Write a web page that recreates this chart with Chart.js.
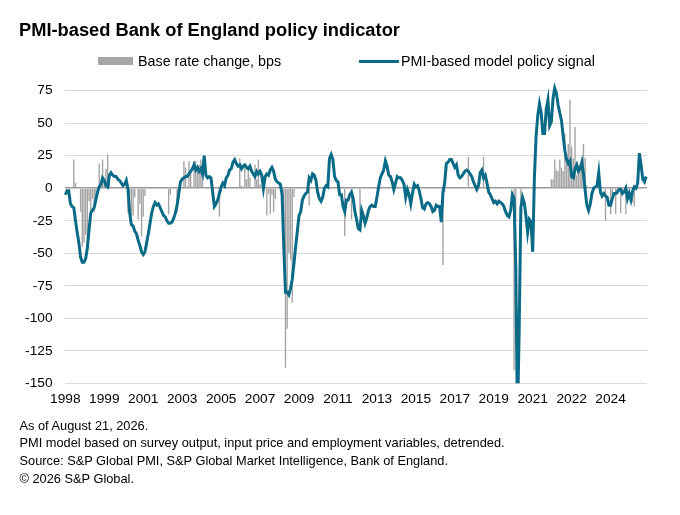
<!DOCTYPE html>
<html>
<head>
<meta charset="utf-8">
<title>PMI-based Bank of England policy indicator</title>
<script src="https://cdn.jsdelivr.net/npm/chart.js@4.4.1/dist/chart.umd.min.js"></script>
<style>
  body { margin: 0; background: #fff; font-family: 'Liberation Sans', Arial, sans-serif; color: #000; }
  #wrap { position: relative; width: 680px; height: 515px; overflow: hidden; }
  #chart { position: absolute; left: 0; top: 0; }
  .title { position: absolute; left: 19px; top: 21px; font-size: 18.3px; font-weight: bold; line-height: 18px; white-space: nowrap; }
  .legend { position: absolute; top: 53px; height: 17px; font-size: 14.3px; line-height: 17px; white-space: nowrap; }
  .swatch { position: absolute; }
  .notes { position: absolute; left: 19.5px; top: 416.7px; font-size: 12.8px; line-height: 17.8px; white-space: nowrap; }
</style>
</head>
<body>
<div id="wrap">
  <canvas id="chart" width="680" height="515"></canvas>
  <div class="title">PMI-based Bank of England policy indicator</div>
  <div class="swatch" style="left:98px; top:57px; width:35px; height:8px; background:#a6a6a6;"></div>
  <div class="legend" style="left:138px;">Base rate change, bps</div>
  <div class="swatch" style="left:359px; top:59.5px; width:40px; height:3px; background:#0a6b88;"></div>
  <div class="legend" style="left:401px;">PMI-based model policy signal</div>
  <div class="notes">
    As of August 21, 2026.<br>
    PMI model based on survey output, input price and employment variables, detrended.<br>
    Source: S&amp;P Global PMI, S&amp;P Global Market Intelligence, Bank of England.<br>
    © 2026 S&amp;P Global.
  </div>
</div>
<script>
// monthly series, Jan 1998 - Aug 2026
const startYear = 1998;
const tickEvery = 23; // months between labelled ticks
const tickYears = ['1998', '1999', '2001', '2003', '2005', '2007', '2009', '2011', '2013', '2015', '2017', '2019', '2021', '2022', '2024'];
const yTicks = [75, 50, 25, 0, -25, -50, -75, -100, -125, -150];

const signal = [
  -5, -2, -2, -12, -14, -15, -25, -34, -42, -53, -57, -57,      // 1998
  -54, -46, -32, -19, -17, -15, -9, -3, 1, 3, 8, 6,             // 1999
  2, 1, 10, 12, 10, 9, 9, 7, 6, 4, 2, 3,                        // 2000
  6, -1, -19, -28, -29, -33, -35, -40, -44, -49, -51, -49,      // 2001
  -42, -35, -27, -19, -14, -11, -13, -12, -15, -18, -21, -22,   // 2002
  -25, -27, -27, -26, -23, -19, -13, -4, 5, 7, 8, 9,            // 2003
  9, 11, 13, 15, 18, 14, 16, 13, 15, 11, 25, 10,                // 2004
  8, 9, 8, -3, -14, -12, -9, -4, 1, 4, 2, 8,                    // 2005
  10, 14, 15, 20, 22, 19, 17, 18, 15, 17, 18, 16,               // 2006
  15, 17, 13, 11, 9, 13, 11, 13, 10, 0, 9, 11,                  // 2007
  10, 14, 16, 13, 7, 5, 4, 3, -5, -45, -80, -80,                // 2008
  -82, -77, -70, -58, -45, -33, -21, -18, -9, -6, -4, -3,       // 2009
  8, 6, 11, 10, 6, -3, -8, -10, -7, 0, 2, 1,                    // 2010
  23, 26, 22, 9, 6, 5, -5, -5, -14, -18, -9, -9,                // 2011
  -5, -3, -8, -18, -24, -31, -32, -17, -21, -27, -23, -17,      // 2012
  -14, -13, -14, -14, -7, 1, 8, 11, 14, 21, 17, 10,             // 2013
  9, 5, -1, 4, 9, 8, 8, 6, 3, -7, -1, -5,                       // 2014
  -12, -4, 3, 1, 2, -2, -8, -15, -16, -12, -11, -12,            // 2015
  -14, -18, -17, -13, -14, -14, -26, -3, 4, 19, 20, 22,         // 2016
  22, 19, 16, 18, 10, 8, 9, 11, 13, 14, 13, 11,                 // 2017
  9, 5, 2, -1, 2, 12, 14, 8, 10, 4, -3, -5,                     // 2018
  -8, -11, -10, -12, -10, -11, -12, -14, -18, -21, -22, -17,    // 2019
  -5, -8, -60, -180, -110, -15, -7, -11, -21, -34, -24, -26,    // 2020
  -49, 8, 40, 56, 65, 58, 42, 42, 61, 68, 48, 51,               // 2021
  69, 77, 73, 64, 58, 52, 40, 29, 22, 19, 21, 9,                // 2022
  8, 15, 18, 13, 15, 20, 11, -2, -13, -17, -12, -4,             // 2023
  0, 1, 2, 12, -3, -6, -4, -6, -7, -13, -13, -8,                // 2024
  -4, -4, -3, -1, -1, -4, -3, 0, -8, -4, -9, -2,                // 2025
  1, 0, 4, 27, 18, 7, 5, 9                                      // 2026
];

const rateChange = [
  0, 0, 0, 0, 0, 22, 4, 0, 0, -18, -45, -42,          // 1998
  -36, -50, -10, -20, -8, -18, -8, 0, 19, 6, 22, 4,   // 1999
  15, 26, 8, 0, 0, 0, 0, 0, 0, 0, 0, 0,               // 2000
  0, -19, -6, -22, -21, -7, 0, -24, -12, -37, -22, -6, // 2001
  0, 0, 0, 0, 0, 0, 0, 0, 0, 0, 0, 0,                 // 2002
  0, -20, -5, 0, 0, 0, -18, -7, 0, 0, 21, 16,         // 2003
  0, 21, 12, 0, 21, 21, 14, 18, 22, 12, 0, 0,         // 2004
  0, 0, 0, 0, 0, 0, 0, -22, -3, 0, 0, 0,              // 2005
  0, 0, 0, 0, 0, 0, 0, 23, 2, 0, 18, 7,               // 2006
  17, 8, 0, 0, 18, 7, 22, 3, 0, 0, 0, -21,            // 2007
  -4, -20, -5, -18, -8, 0, 0, 0, 0, -37, -138, -108,  // 2008
  -50, -55, -88, -7, 0, 0, 0, 0, 0, 0, 0, 0,          // 2009
  -13, 0, 0, 0, 0, 0, 0, 0, 0, 0, 0, 0,               // 2010
  0, 0, 0, 0, 0, 0, 0, 0, 0, -37, 0, 0,               // 2011
  0, -24, 0, 0, 0, 0, -20, 0, 0, 0, 0, 0,             // 2012
  0, 0, 0, 0, 0, 0, 0, 0, 0, 0, 0, 0,                 // 2013
  0, 0, 0, 0, 0, 0, 0, 0, 0, 0, 0, 0,                 // 2014
  0, 0, 0, 0, 0, 0, 0, 0, 0, 0, 0, 0,                 // 2015
  0, 0, 0, 0, 0, 0, 0, -59, -3, 0, 0, 0,              // 2016
  0, 0, 0, 0, 0, 0, 0, 0, 0, 0, 24, 1,                // 2017
  0, 0, 0, 0, 0, 0, 0, 24, 1, 0, 0, 0,                // 2018
  0, 0, 0, 0, 0, 0, 0, 0, 0, 0, 0, 0,                 // 2019
  0, -140, -25, 0, 0, -25, 0, 0, 0, 0, 0, 0,          // 2020
  0, 0, 0, 0, 0, 0, 0, 0, 0, 0, 0, 7,                 // 2021
  7, 22, 14, 13, 22, 16, 13, 42, 22, 34, 68, 32,      // 2022
  23, 47, 10, 18, 17, 23, 34, 23, 2, 0, 0, 0,         // 2023
  0, 0, 0, 0, 0, 0, 0, -25, 0, 0, -20, -5,            // 2024
  0, -20, -5, 0, -19, -6, 0, -20, -5, 0, 0, -11,      // 2025
  -14, 0, 0, 0, 0, 0, 0, 0                            // 2026
];

const months = [];
for (let i = 0; i < signal.length; i++) {
  const y = startYear + Math.floor(i / 12);
  const m = (i % 12) + 1;
  months.push(y + '-' + String(m).padStart(2, '0'));
}

const axisFont = { family: "'Liberation Sans', Arial, sans-serif", size: 13.7 };

new Chart(document.getElementById('chart'), {
  type: 'bar',
  data: {
    labels: months,
    datasets: [
      {
        type: 'bar',
        label: 'Base rate change, bps',
        data: rateChange,
        backgroundColor: '#a3a3a3',
        categoryPercentage: 1,
        barPercentage: 0.8,
        order: 2
      },
      {
        type: 'line',
        label: 'PMI-based model policy signal',
        data: signal,
        borderColor: '#0a6b88',
        borderWidth: 3,
        pointRadius: 0,
        tension: 0,
        fill: false,
        order: 1,
        clip: { left: 2, right: 2, top: 8, bottom: 0 }
      }
    ]
  },
  options: {
    responsive: false,
    animation: false,
    layout: { padding: { left: 0, right: 33, top: 90.7, bottom: 101.7 } },
    plugins: {
      legend: { display: false },
      tooltip: { enabled: false }
    },
    scales: {
      x: {
        offset: true,
        grid: { display: false, drawTicks: false },
        border: { display: false },
        afterBuildTicks: (axis) => {
          axis.ticks = axis.ticks.filter(t => t.value % tickEvery === 0);
        },
        afterFit: (axis) => { axis.height = 30; },
        ticks: {
          autoSkip: false,
          maxRotation: 0,
          padding: 8,
          color: '#000',
          font: axisFont,
          callback: (value) => tickYears[value / tickEvery]
        }
      },
      y: {
        min: -150,
        max: 75,
        afterBuildTicks: (axis) => {
          axis.ticks = yTicks.map(v => ({ value: v }));
        },
        afterFit: (axis) => { axis.width = 64.5; },
        border: { display: false },
        grid: {
          drawTicks: false,
          color: (ctx) => ctx.tick && ctx.tick.value === 0 ? '#9a9a9a' : '#d9d9d9',
          lineWidth: (ctx) => ctx.tick && ctx.tick.value === 0 ? 1.5 : 1
        },
        ticks: {
          padding: 12,
          color: '#000',
          font: axisFont,
          callback: (value) => String(value)
        }
      }
    }
  }
});
</script>
</body>
</html>
